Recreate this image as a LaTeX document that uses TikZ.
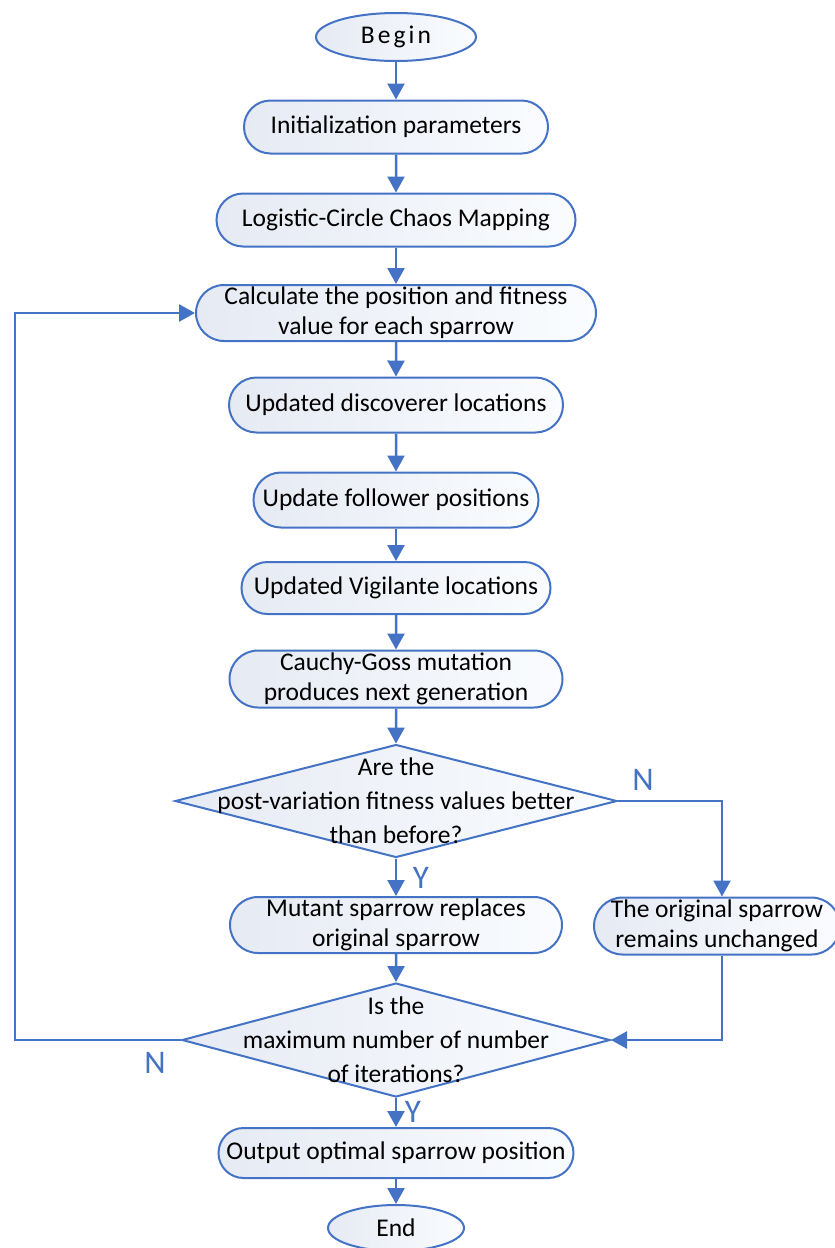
\documentclass[tikz,border=0pt]{standalone}
\usepackage{fontspec}
\setmainfont{Carlito}
\usetikzlibrary{shapes.geometric, shapes.misc, arrows.meta}
\definecolor{flowblue}{HTML}{4472C4}
\definecolor{boxleft}{RGB}{230,234,243}
\definecolor{boxright}{RGB}{250,252,255}

\tikzset{
	every node/.style={font=\fontsize{25.5}{30}\selectfont},
	base/.style={draw=flowblue, line width=2pt, left color=boxleft, right color=boxright, align=center, inner sep=0pt},
	proc/.style={base, rounded rectangle},
	term/.style={base, ellipse},
	dia/.style={base, diamond},
	arr/.style={draw=flowblue, line width=2.5pt, -{Triangle[width=17pt,length=16pt]}},
	yn/.style={text=flowblue, font=\fontsize{33}{33}\selectfont}
}

\begin{document}
\begin{tikzpicture}[x=1pt, y=-1pt]
	\useasboundingbox (0,0) rectangle (835,1248);
	% terminals and steps
	\node[term, minimum width=160pt, minimum height=48pt] (begin) at (396,37) {\addfontfeature{LetterSpace=12}Begin};
	\node[proc, minimum width=304pt, minimum height=53pt] (init) at (396,127) {Initialization parameters};
	\node[proc, minimum width=359pt, minimum height=53pt] (chaos) at (396,220) {Logistic-Circle Chaos Mapping};
	\node[proc, minimum width=400pt, minimum height=56pt] (calc) at (396,313) {Calculate the position and fitness\\value for each sparrow};
	\node[proc, minimum width=334pt, minimum height=55pt] (disc) at (396,405) {Updated discoverer locations};
	\node[proc, minimum width=285pt, minimum height=55pt] (foll) at (396,500) {Update follower positions};
	\node[proc, minimum width=309pt, minimum height=52pt] (vigil) at (396,588) {Updated Vigilante locations};
	\node[proc, minimum width=333pt, minimum height=57pt] (cauchy) at (396,679) {Cauchy-Goss mutation\\produces next generation};
	% decisions
	\node[dia, minimum width=442pt, minimum height=113pt,
		label={[align=center, font=\fontsize{25.5}{34}\selectfont]center:Are the\\post-variation fitness values better\\than before?}] (better) at (396,801) {};
	\node[proc, minimum width=332pt, minimum height=56pt] (mutant) at (396,925) {Mutant sparrow replaces\\original sparrow};
	\node[proc, minimum width=240pt, minimum height=57pt] (keep) at (717,926) {The original sparrow\\remains unchanged};
	\node[dia, minimum width=428pt, minimum height=114pt,
		label={[align=center, font=\fontsize{25.5}{34}\selectfont]center:Is the\\maximum number of number\\of iterations?}] (maxit) at (396,1040) {};
	\node[proc, minimum width=355pt, minimum height=50pt] (output) at (396,1153) {Output optimal sparrow position};
	\node[term, minimum width=136pt, minimum height=46pt] (end) at (396,1228) {End};
	\coordinate (loop) at (15,1040);

	% connectors
	\draw[arr] (begin) -- (init);
	\draw[arr] (init) -- (chaos);
	\draw[arr] (chaos) -- (calc);
	\draw[arr] (calc) -- (disc);
	\draw[arr] (disc) -- (foll);
	\draw[arr] (foll) -- (vigil);
	\draw[arr] (vigil) -- (cauchy);
	\draw[arr] (cauchy) -- (better);
	\draw[arr] (better) -- (mutant);
	\draw[arr] (better.east) -| ([xshift=5pt]keep.north);
	\draw[arr] (mutant) -- (maxit);
	\draw[arr] ([xshift=5pt]keep.south) |- (maxit.east);
	\draw[arr] (maxit.west) -- (loop) |- (calc.west);
	\draw[arr] (maxit) -- (output);
	\draw[arr] (output) -- (end);

	% Y / N labels
	\node[yn] (n1) at (643,780) {N};
	\node[yn] (y1) at (421,878) {Y};
	\node[yn] (n2) at (155,1063) {N};
	\node[yn] (y2) at (413,1112) {Y};
\end{tikzpicture}
\end{document}
